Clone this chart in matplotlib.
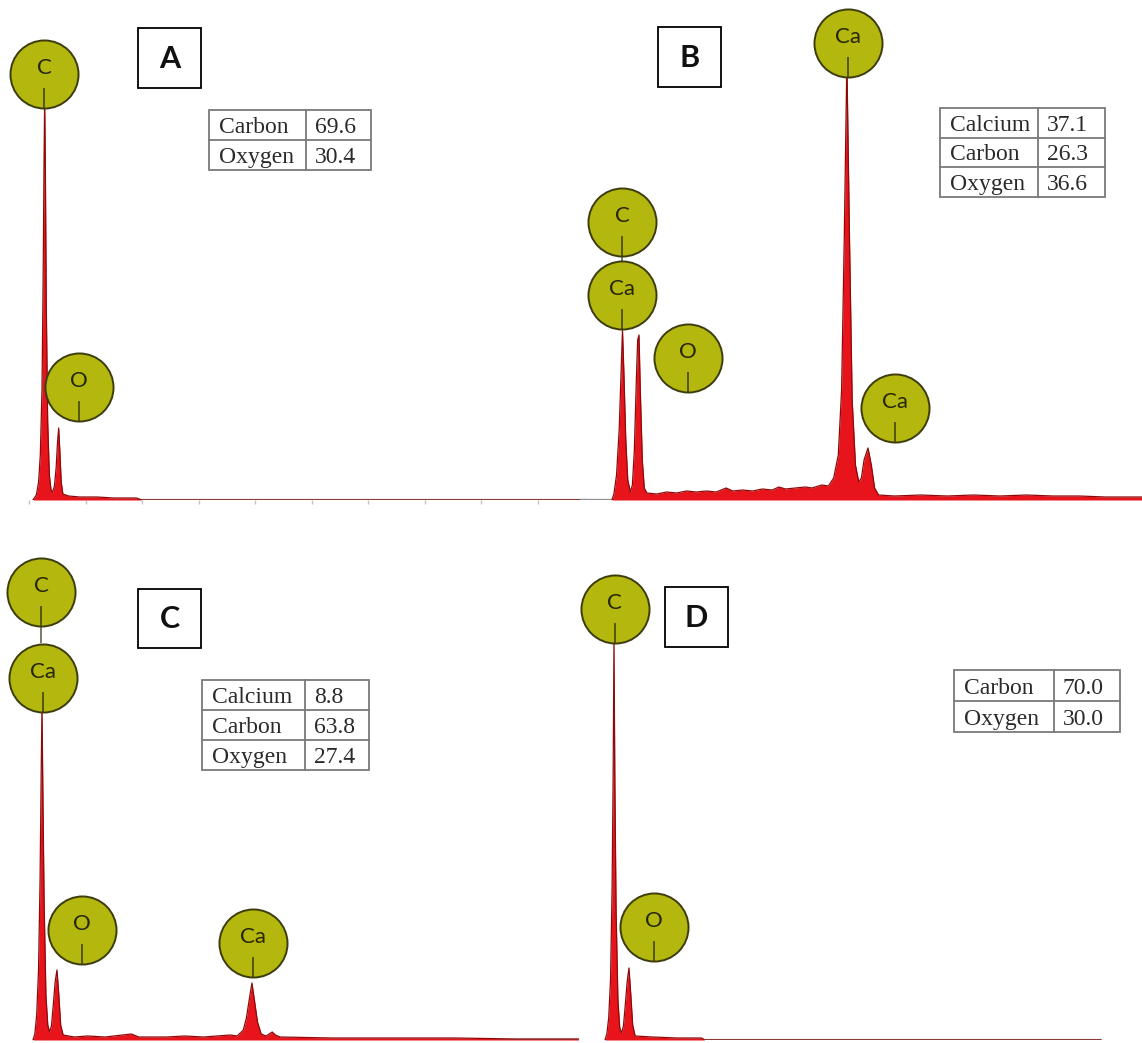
import matplotlib.pyplot as plt
from matplotlib.patches import Rectangle

# EDS spectra: energy (keV) and counts (arb. units)
a_kev = [0.07, 0.13, 0.17, 0.20, 0.23, 0.25, 0.265, 0.277, 0.29, 0.305, 0.33, 0.36, 0.39, 0.42,
         0.45, 0.48, 0.505, 0.525, 0.545, 0.57, 0.60, 0.70, 0.90, 1.20, 1.50, 1.90, 2.00, 9.90]
a_counts = [0, 5, 18, 45, 110, 220, 330, 400, 330, 200, 80, 25, 10, 8,
            14, 32, 58, 72, 50, 18, 6, 4, 3, 3, 2, 2, 0, 0]

b_kev = [0.12, 0.15, 0.19, 0.23, 0.26, 0.28, 0.30, 0.33, 0.36, 0.40, 0.43, 0.46, 0.49, 0.51,
         0.53, 0.55, 0.58, 0.61, 0.65, 0.80, 0.95, 1.10, 1.25, 1.40, 1.55, 1.70, 1.85, 1.95,
         2.10, 2.25, 2.40, 2.55, 2.65, 2.75, 2.90, 3.05, 3.15, 3.30, 3.40, 3.48, 3.55, 3.60,
         3.64, 3.68, 3.72, 3.76, 3.81, 3.86, 3.90, 3.94, 4.00, 4.05, 4.10, 4.16, 4.40, 4.80,
         5.20, 5.60, 6.00, 6.40, 6.80, 7.20, 7.60, 8.15]
b_counts = [0, 6, 25, 70, 130, 170, 130, 60, 20, 8, 15, 50, 120, 160,
            165, 110, 40, 12, 7, 6, 8, 7, 9, 8, 9, 8, 12, 9,
            10, 9, 11, 10, 13, 11, 12, 13, 12, 15, 14, 22, 45, 110,
            260, 440, 260, 100, 35, 18, 22, 40, 52, 35, 12, 5, 4, 5,
            4, 5, 4, 5, 4, 4, 3, 3]

c_kev = [0.13, 0.16, 0.19, 0.22, 0.245, 0.262, 0.276, 0.29, 0.31, 0.34, 0.37, 0.40, 0.43, 0.46,
         0.49, 0.52, 0.55, 0.58, 0.62, 0.80, 1.02, 1.30, 1.73, 1.85, 2.30, 2.60, 2.90, 3.34,
         3.45, 3.55, 3.60, 3.65, 3.69, 3.73, 3.78, 3.84, 3.92, 3.97, 4.02, 4.07, 4.15, 5.0,
         6.0, 7.0, 8.0, 9.0]
c_counts = [0, 6, 25, 70, 160, 260, 335, 250, 140, 45, 15, 8, 14, 35,
            58, 70, 45, 15, 5, 3, 4, 3, 6, 3, 3, 4, 3, 5,
            4, 10, 22, 42, 57, 40, 18, 6, 4, 6, 8, 5, 3, 2,
            2, 2, 1, 1]

d_kev = [0.13, 0.16, 0.19, 0.22, 0.245, 0.262, 0.276, 0.29, 0.31, 0.34, 0.37, 0.40, 0.43, 0.46,
         0.49, 0.52, 0.55, 0.58, 0.62, 0.90, 1.30, 1.70, 1.75, 8.20]
d_counts = [0, 6, 22, 60, 150, 260, 400, 260, 130, 40, 12, 7, 14, 35,
            58, 72, 45, 15, 4, 3, 2, 2, 0, 0]

# quantification tables (wt %)
a_elements = ['Carbon', 'Oxygen']
a_wt = ['69.6', '30.4']
b_elements = ['Calcium', 'Carbon', 'Oxygen']
b_wt = ['37.1', '26.3', '36.6']
c_elements = ['Calcium', 'Carbon', 'Oxygen']
c_wt = ['8.8', '63.8', '27.4']
d_elements = ['Carbon', 'Oxygen']
d_wt = ['70.0', '30.0']

RED = '#e8141c'
EDGE_RED = '#8c0a0a'
OLIVE = '#b4b70e'
OLIVE_EDGE = '#3c3c0c'
GRAY = '#8f8f8f'

W, H = 1142, 1043
fig = plt.figure(figsize=(W / 100, H / 100), dpi=100)


def make_panel(left, right, base, top, origin, scale):
    # pixel box -> axes; 1 count unit == 1 pixel vertically
    ax = fig.add_axes([left / W, 1 - base / H, (right - left) / W, (base - top) / H])
    ax.set_xlim((left - origin) / scale, (right - origin) / scale)
    ax.set_ylim(0, base - top)
    for s in ax.spines.values():
        s.set_visible(False)
    ax.set_xticks([])
    ax.set_yticks([])
    ax.patch.set_alpha(0)
    return ax


def draw_spectrum(ax, kev, counts, x0, x1):
    ax.plot([x0, x1], [0, 0], color=GRAY, lw=1.6, zorder=1, solid_capstyle='butt')
    ax.fill_between(kev, counts, 0, color=RED, lw=0, zorder=2)
    ax.plot(kev, counts, color=EDGE_RED, lw=0.9, zorder=3)


def marker(ax, label, e, h, link_to=None):
    if link_to is not None:
        ax.plot([e, e], [h - 14, link_to], color='#555544', lw=1.1, zorder=4,
                solid_capstyle='butt', clip_on=False)
    ax.plot([e], [h], 'o', ms=49, mfc=OLIVE, mec=OLIVE_EDGE, mew=1.4, zorder=5, clip_on=False)
    ax.plot([e, e], [h - 14, h - 34], color=OLIVE_EDGE, lw=1.1, zorder=6,
            solid_capstyle='butt', clip_on=False)
    ax.annotate(label, (e, h), xytext=(0, 4), textcoords='offset points', ha='center',
                va='center', fontsize=16, family='Lato', color='#262600', zorder=7)


# panel A
axA = make_panel(20, 600, 500, 0, 29, 56.5)
draw_spectrum(axA, a_kev, a_counts, 0.07, 9.9)
axA.set_xticks(range(0, 10))
axA.tick_params(axis='x', length=3, width=1, color='#c4c4c4', labelbottom=False)
marker(axA, 'C', 0.265, 426)
marker(axA, 'O', 0.885, 113)

# panel B
axB = make_panel(580, 1142, 500, 0, 604, 66)
draw_spectrum(axB, b_kev, b_counts, -0.36, 8.15)
marker(axB, 'C', 0.28, 278, link_to=239)
marker(axB, 'Ca', 0.28, 205)
marker(axB, 'O', 1.27, 142)
marker(axB, 'Ca', 3.70, 457)
marker(axB, 'Ca', 4.41, 92)

# panel C
axC = make_panel(20, 590, 1040, 540, 25, 61.5)
draw_spectrum(axC, c_kev, c_counts, 0.13, 9.0)
marker(axC, 'C', 0.26, 448, link_to=397)
marker(axC, 'Ca', 0.29, 362)
marker(axC, 'O', 0.93, 110)
marker(axC, 'Ca', 3.71, 97)

# panel D
axD = make_panel(590, 1142, 1040, 540, 597, 61.5)
draw_spectrum(axD, d_kev, d_counts, 0.13, 8.2)
marker(axD, 'C', 0.29, 431)
marker(axD, 'O', 0.93, 113)

# overlay in pixel coordinates for letter boxes and tables
ov = fig.add_axes([0, 0, 1, 1])
ov.set_xlim(0, W)
ov.set_ylim(H, 0)
ov.axis('off')


def letter_box(letter, x0, y0, x1, y1):
    ov.add_patch(Rectangle((x0, y0), x1 - x0, y1 - y0, fill=False, ec='black', lw=1.3))
    ov.text((x0 + x1) / 2, (y0 + y1) / 2 + 1, letter, ha='center', va='center',
            fontsize=22, family='Lato', fontweight='bold', color='#111111')


def table(names, values, x0, y0, x1, y1, xcol):
    n = len(names)
    rh = (y1 - y0) / n
    ov.add_patch(Rectangle((x0, y0), x1 - x0, y1 - y0, fill=False, ec='#7a7a7a', lw=1.3))
    ov.plot([xcol, xcol], [y0, y1], color='#7a7a7a', lw=1.3)
    for i in range(1, n):
        ov.plot([x0, x1], [y0 + i * rh, y0 + i * rh], color='#7a7a7a', lw=1.3)
    for i in range(n):
        yb = y0 + i * rh + 0.76 * rh
        ov.text(x0 + 10, yb, names[i], ha='left', va='baseline', fontsize=17,
                family='Liberation Serif', color='#2a2a2a')
        ov.text(xcol + 9, yb, values[i], ha='left', va='baseline', fontsize=17,
                family='Liberation Serif', color='#2a2a2a')


letter_box('A', 138, 28, 201, 88)
letter_box('B', 658, 27, 721, 87)
letter_box('C', 138, 589, 201, 648)
letter_box('D', 665, 587, 728, 647)

table(a_elements, a_wt, 209, 110, 371, 170, 306)
table(b_elements, b_wt, 940, 108, 1105, 197, 1038)
table(c_elements, c_wt, 202, 680, 369, 770, 305)
table(d_elements, d_wt, 954, 670, 1120, 732, 1054)

fig.savefig('out.png', dpi=100)
